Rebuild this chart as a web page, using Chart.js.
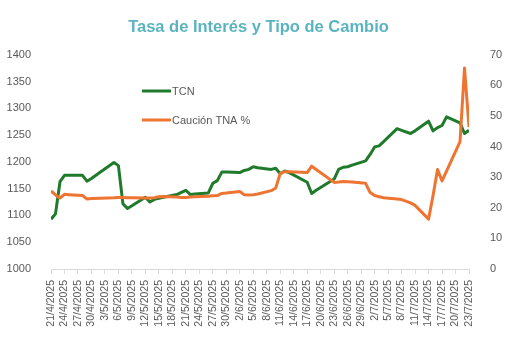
<!DOCTYPE html>
<html>
<head>
<meta charset="utf-8">
<script src="https://cdn.jsdelivr.net/npm/chart.js@4.4.1/dist/chart.umd.min.js"></script>
<style>
  html, body { margin: 0; padding: 0; background: #fff; }
</style>
</head>
<body>
<canvas id="chart" width="517" height="340"></canvas>
<script>
// trading days
var dates = [
  '21/4/2025', '22/4/2025', '23/4/2025', '24/4/2025', '25/4/2025', '28/4/2025', '29/4/2025', '30/4/2025',
  '2/5/2025', '5/5/2025', '6/5/2025', '7/5/2025', '8/5/2025', '9/5/2025', '12/5/2025', '13/5/2025',
  '14/5/2025', '15/5/2025', '16/5/2025', '19/5/2025', '20/5/2025', '21/5/2025', '22/5/2025', '23/5/2025',
  '26/5/2025', '27/5/2025', '28/5/2025', '29/5/2025', '30/5/2025', '2/6/2025', '3/6/2025', '4/6/2025',
  '5/6/2025', '6/6/2025', '9/6/2025', '10/6/2025', '11/6/2025', '12/6/2025', '13/6/2025', '17/6/2025',
  '18/6/2025', '19/6/2025', '23/6/2025', '24/6/2025', '25/6/2025', '26/6/2025', '27/6/2025', '30/6/2025',
  '1/7/2025', '2/7/2025', '3/7/2025', '4/7/2025', '7/7/2025', '8/7/2025', '10/7/2025', '11/7/2025',
  '14/7/2025', '15/7/2025', '16/7/2025', '17/7/2025', '18/7/2025', '21/7/2025', '22/7/2025', '23/7/2025'
];

// TCN (left axis)
var tcn = [
  1093, 1103, 1163, 1175, 1175, 1175, 1164, 1169,
  1181, 1199, 1193, 1122, 1113, 1118, 1134, 1125,
  1130, 1132, 1134, 1139, 1143, 1147, 1139, 1140,
  1142, 1160, 1165, 1181, 1181, 1180, 1184, 1186,
  1191, 1189, 1186, 1188, 1178, 1183, 1180, 1162,
  1141, 1147, 1168, 1186, 1190, 1191, 1194, 1202,
  1214, 1228, 1230, 1238, 1262, 1259, 1253, 1258,
  1276, 1258, 1264, 1268, 1284, 1273, 1253, 1259
];

// Caucion TNA % (right axis)
var caucion = [
  25.5, 24.2, 23.2, 24.4, 24.3, 24.0, 22.9, 23.0,
  23.1, 23.3, 23.4, 23.4, 23.3, 23.3, 23.2, 23.2,
  23.3, 23.6, 23.7, 23.5, 23.4, 23.4, 23.5, 23.6,
  23.8, 23.9, 24.0, 24.7, 24.8, 25.3, 24.3, 24.2,
  24.3, 24.5, 25.6, 26.5, 31.2, 31.8, 31.8, 31.5,
  33.6, 32.5, 28.3, 28.4, 28.6, 28.5, 28.4, 28.0,
  25.0, 24.0, 23.6, 23.3, 22.9, 22.7, 21.6, 20.8,
  16.3, 24.0, 32.5, 28.8, 32.0, 41.6, 65.7, 46.4
];

var tickLabels = [
  '21/4/2025', '24/4/2025', '27/4/2025', '30/4/2025', '3/5/2025', '6/5/2025', '9/5/2025', '12/5/2025',
  '15/5/2025', '18/5/2025', '21/5/2025', '24/5/2025', '27/5/2025', '30/5/2025', '2/6/2025', '5/6/2025',
  '8/6/2025', '11/6/2025', '14/6/2025', '17/6/2025', '20/6/2025', '23/6/2025', '26/6/2025', '29/6/2025',
  '2/7/2025', '5/7/2025', '8/7/2025', '11/7/2025', '14/7/2025', '17/7/2025', '20/7/2025', '23/7/2025'
];

function toUTC(s) {
  var p = s.split('/');
  return Date.UTC(+p[2], +p[1] - 1, +p[0]);
}
function dayOffset(s) {
  return Math.round((toUTC(s) - toUTC(dates[0])) / 86400000);
}
function points(values) {
  return values.map(function (v, i) { return { x: dayOffset(dates[i]), y: v }; });
}

var lastDay = dayOffset(tickLabels[tickLabels.length - 1]);
var textColor = '#595959';
var axisColor = '#d9d9d9';

Chart.defaults.font.family = "'Liberation Sans', Arial, sans-serif";
Chart.defaults.color = textColor;

// legend inside the plot
var insideLegend = {
  id: 'insideLegend',
  afterDraw: function (chart) {
    var ctx = chart.ctx;
    ctx.save();
    chart.data.datasets.forEach(function (ds, i) {
      var y = 91 + i * 29;
      ctx.strokeStyle = ds.borderColor;
      ctx.lineWidth = 3;
      ctx.beginPath();
      ctx.moveTo(142, y);
      ctx.lineTo(171, y);
      ctx.stroke();
      ctx.fillStyle = textColor;
      ctx.font = "11px 'Liberation Sans', Arial, sans-serif";
      ctx.textBaseline = 'middle';
      ctx.fillText(ds.label, 172, y + 0.5);
    });
    ctx.restore();
  }
};

new Chart(document.getElementById('chart'), {
  type: 'line',
  data: {
    datasets: [
      {
        label: 'TCN',
        data: points(tcn),
        yAxisID: 'y',
        borderColor: '#1f7a2b',
        borderWidth: 3,
        pointRadius: 0,
        borderJoinStyle: 'round',
        order: 1
      },
      {
        label: 'Caución TNA %',
        data: points(caucion),
        yAxisID: 'y1',
        borderColor: '#ee7431',
        borderWidth: 3,
        pointRadius: 0,
        borderJoinStyle: 'round',
        order: 0
      }
    ]
  },
  options: {
    responsive: false,
    animation: false,
    devicePixelRatio: 1,
    layout: { padding: { top: 18, left: 0, right: 0, bottom: 0 } },
    plugins: {
      legend: { display: false },
      tooltip: { enabled: false },
      title: {
        display: true,
        text: 'Tasa de Interés y Tipo de Cambio',
        color: '#5ab4bf',
        font: { size: 16.5, weight: 'bold' },
        padding: { top: 0, bottom: 17 }
      }
    },
    scales: {
      x: {
        type: 'linear',
        min: 0,
        max: lastDay,
        border: { color: axisColor },
        grid: { drawOnChartArea: false, color: axisColor, tickLength: 5 },
        ticks: {
          stepSize: 3,
          autoSkip: false,
          maxRotation: 90,
          minRotation: 90,
          padding: 6,
          font: { size: 10.5 },
          callback: function (v) { return tickLabels[v / 3]; }
        },
        afterFit: function (s) { s.height = 71; }
      },
      y: {
        position: 'left',
        min: 1000,
        max: 1400,
        grid: { display: false },
        border: { display: false },
        ticks: { stepSize: 50, padding: 12, font: { size: 11 }, callback: function (v) { return String(v); } },
        afterFit: function (s) { s.width = 51; }
      },
      y1: {
        position: 'right',
        min: 0,
        max: 70,
        grid: { display: false },
        border: { display: false },
        ticks: { stepSize: 10, padding: 13, font: { size: 11 } },
        afterFit: function (s) { s.width = 48; }
      }
    }
  },
  plugins: [insideLegend]
});
</script>
</body>
</html>
